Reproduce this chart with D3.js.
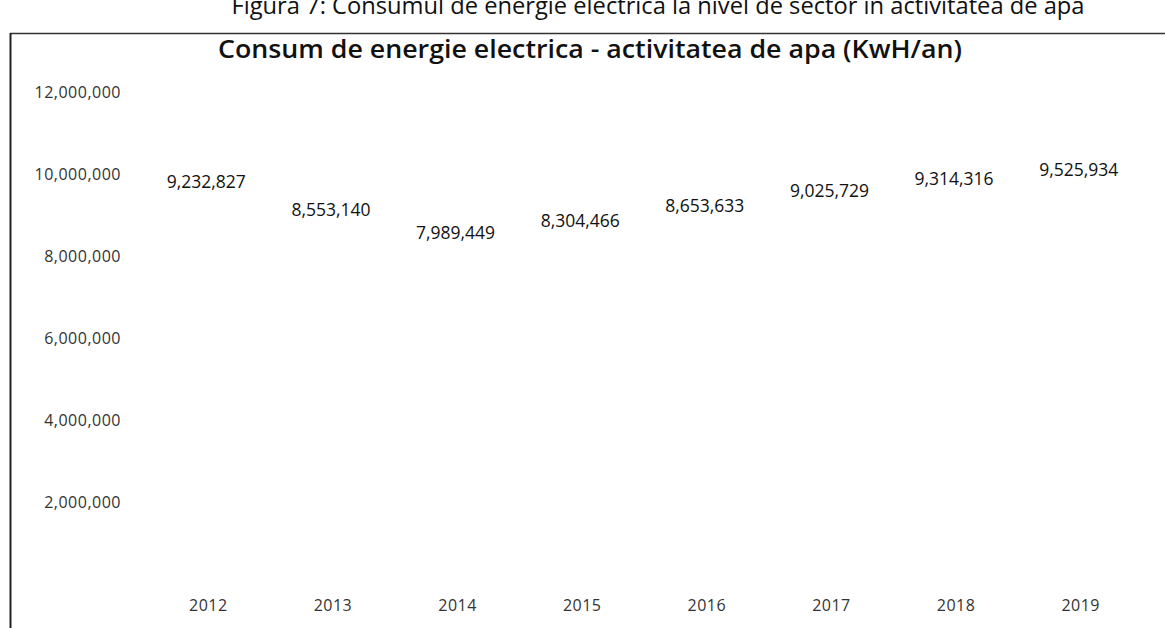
<!DOCTYPE html>
<html><head><meta charset="utf-8">
<script src="https://cdn.jsdelivr.net/npm/d3@7"></script>
<style>body{margin:0;background:#fff;} svg{display:block;}</style>
</head><body>
<svg id="c" width="1165" height="628"></svg>
<script>
const years = ["2012","2013","2014","2015","2016","2017","2018","2019"];
const values = [9232827, 8553140, 7989449, 8304466, 8653633, 9025729, 9314316, 9525934];
const yTicks = [2000000, 4000000, 6000000, 8000000, 10000000, 12000000];
const chartTitle = "Consum de energie electrica - activitatea de apa (KwH/an)";
const figureCaption = "Figura 7: Consumul de energie electrica la nivel de sector in activitatea de apa";

const W = 1165, H = 628;
const svg = d3.select("#c");
const x = d3.scaleBand().domain(years).range([146, 1143]);
const y = d3.scaleLinear().domain([0, 12000000]).range([584, 92]);
const fmt = d3.format(",");

// figure caption (cut at top, as in the scan)
svg.append("text").attr("x", 658).attr("y", 14)
  .attr("text-anchor", "middle").attr("font-family", "Open Sans, sans-serif")
  .attr("font-size", 23).attr("fill", "#111")
  .attr("textLength", 853).attr("lengthAdjust", "spacingAndGlyphs")
  .text(figureCaption);

// frame
svg.append("line").attr("x1", 10).attr("x2", W).attr("y1", 33.5).attr("y2", 33.5)
  .attr("stroke", "#333").attr("stroke-width", 1.5);
svg.append("line").attr("x1", 10.5).attr("x2", 10.5).attr("y1", 33).attr("y2", H)
  .attr("stroke", "#222").attr("stroke-width", 2);

// chart title
svg.append("text").attr("x", 590).attr("y", 58)
  .attr("text-anchor", "middle").attr("font-family", "Open Sans, sans-serif")
  .attr("font-weight", 600).attr("font-size", 26).attr("fill", "#111")
  .attr("textLength", 744).attr("lengthAdjust", "spacingAndGlyphs")
  .text(chartTitle);

// y axis
const yAxis = d3.axisLeft(y).tickValues(yTicks).tickFormat(fmt).tickSize(0).tickPadding(0);
const gy = svg.append("g").attr("transform", "translate(121,0)").call(yAxis);
gy.select(".domain").remove();
gy.selectAll("text").attr("font-family", "Open Sans, sans-serif").attr("font-size", 16)
  .attr("fill", "#333").attr("letter-spacing", "0.5px");

// x axis
const xAxis = d3.axisBottom(x).tickSize(0).tickPadding(0);
const gx = svg.append("g").attr("transform", "translate(0,600)").call(xAxis);
gx.select(".domain").remove();
gx.selectAll("text").attr("font-family", "Open Sans, sans-serif").attr("font-size", 16)
  .attr("fill", "#333").attr("letter-spacing", "0.5px");

// data labels
svg.append("g").selectAll("text").data(values).join("text")
  .attr("x", (d, i) => x(years[i]) + x.bandwidth() / 2 - 2)
  .attr("y", d => y(d) - 17)
  .attr("text-anchor", "middle")
  .attr("font-family", "Open Sans, sans-serif").attr("font-size", 17.5).attr("fill", "#111")
  .text(d => fmt(d));
</script>
</body></html>
